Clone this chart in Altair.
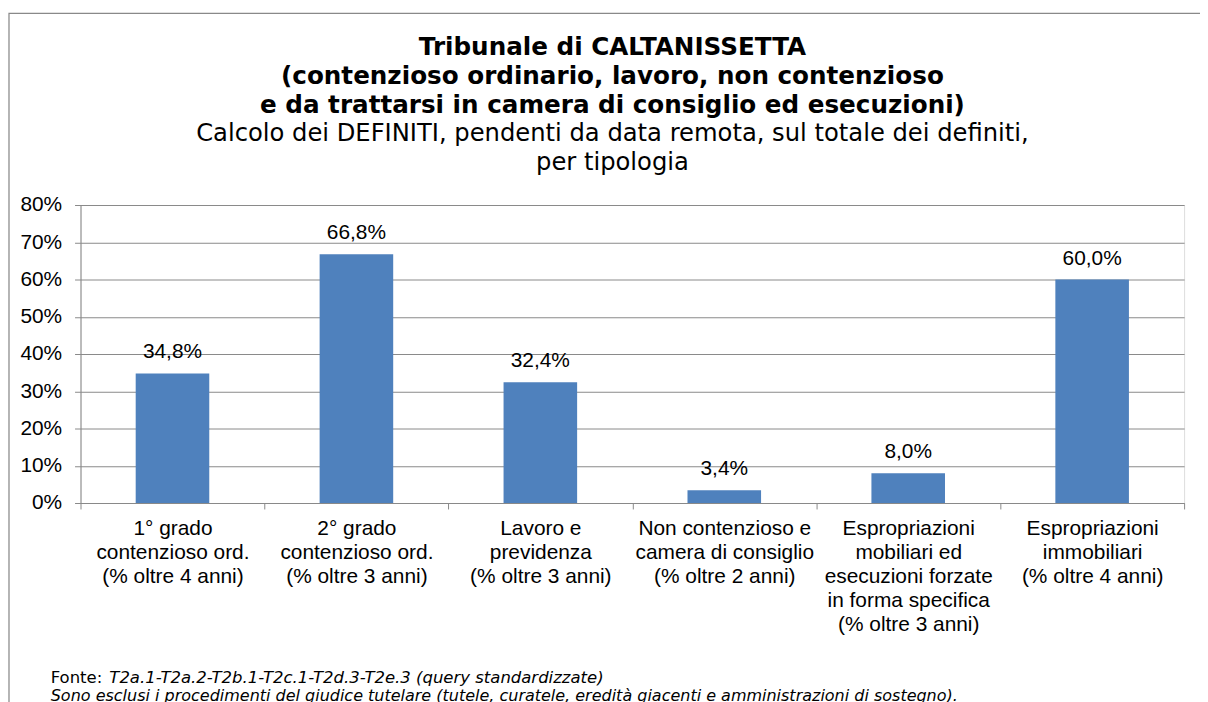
import altair as alt
import pandas as pd

categories = [
    "1° grado\ncontenzioso ord.\n(% oltre 4 anni)",
    "2° grado\ncontenzioso ord.\n(% oltre 3 anni)",
    "Lavoro e\nprevidenza\n(% oltre 3 anni)",
    "Non contenzioso e\ncamera di consiglio\n(% oltre 2 anni)",
    "Espropriazioni\nmobiliari ed\nesecuzioni forzate\nin forma specifica\n(% oltre 3 anni)",
    "Espropriazioni\nimmobiliari\n(% oltre 4 anni)",
]
values = [34.8, 66.8, 32.4, 3.4, 8.0, 60.0]
y_ticks = [0, 10, 20, 30, 40, 50, 60, 70, 80]

title_lines = [
    "Tribunale di CALTANISSETTA",
    "(contenzioso ordinario, lavoro, non contenzioso",
    "e da trattarsi in camera di consiglio ed esecuzioni)",
]
subtitle_lines = [
    "Calcolo dei DEFINITI, pendenti da data remota, sul totale dei definiti,",
    "per tipologia",
]
footer_label = "Fonte: "
footer_source = "T2a.1-T2a.2-T2b.1-T2c.1-T2d.3-T2e.3 (query standardizzate)"
footer_note = "Sono esclusi i procedimenti del giudice tutelare (tutele, curatele, eredità giacenti e amministrazioni di sostegno)."

df = pd.DataFrame({
    "cat": categories,
    "val": values,
    "label": [f"{v:.1f}".replace(".", ",") + "%" for v in values],
})

GRAY = "#898989"
BLUE = "#4F81BD"
W, H = 1111, 300

x_enc = alt.X(
    "cat:N",
    sort=categories,
    scale=alt.Scale(paddingInner=0, paddingOuter=0),
    axis=alt.Axis(
        title=None,
        labelAngle=0,
        labelExpr="split(datum.label, '\\n')",
        labelFont="Liberation Sans",
        labelFontSize=21,
        labelLineHeight=24,
        labelColor="black",
        labelPadding=9,
        labelLimit=0,
        labelOverlap=False,
        tickBand="extent",
        tickSize=6,
        tickColor=GRAY,
        domainColor=GRAY,
        grid=False,
    ),
)
y_enc = alt.Y(
    "val:Q",
    scale=alt.Scale(domain=[0, 80], nice=False),
    axis=alt.Axis(
        title=None,
        values=y_ticks,
        tickCount=9,
        labelExpr="datum.value + '%'",
        labelFont="Liberation Sans",
        labelFontSize=21,
        labelColor="black",
        labelPadding=13,
        labelOverlap=False,
        tickSize=6,
        tickColor=GRAY,
        domainColor=GRAY,
        gridColor=GRAY,
        gridWidth=1,
    ),
)

base = alt.Chart(df)
bars = base.mark_bar(color=BLUE, width={"band": 0.4}).encode(x=x_enc, y=y_enc)
texts = base.mark_text(
    font="Liberation Sans", fontSize=21, color="black", baseline="middle", dy=-21
).encode(x=x_enc, y=y_enc, text="label:N")

one = alt.Data(values=[{"a": 1}])
frame = alt.Chart(one).mark_rect(fill="transparent", stroke=GRAY, strokeWidth=1.25).encode(
    x=alt.value(-72), x2=alt.value(1160), y=alt.value(-193), y2=alt.value(530)
)
foot1a = alt.Chart(one).mark_text(
    font="DejaVu Sans", fontSize=16.6, align="left", baseline="middle", color="black"
).encode(x=alt.value(-30), y=alt.value(476), text=alt.value(footer_label))
foot1b = alt.Chart(one).mark_text(
    font="DejaVu Sans", fontSize=16.6, fontStyle="italic", align="left", baseline="middle", color="black"
).encode(x=alt.value(29), y=alt.value(476), text=alt.value(footer_source))
foot2 = alt.Chart(one).mark_text(
    font="DejaVu Sans", fontSize=16.1, fontStyle="italic", align="left", baseline="middle", color="black"
).encode(x=alt.value(-30), y=alt.value(494.5), text=alt.value(footer_note))

chart = alt.layer(frame, bars, texts, foot1a, foot1b, foot2).properties(
    width=W,
    height=H,
    autosize=alt.AutoSizeParams(type="none"),
    padding={"left": 73, "top": 196, "right": 16, "bottom": 198},
    title=alt.TitleParams(
        text=title_lines,
        subtitle=subtitle_lines,
        anchor="middle",
        frame="group",
        dx=-20,
        offset=-163,
        font="DejaVu Sans",
        fontSize=24.8,
        fontWeight="bold",
        lineHeight=29.3,
        color="black",
        subtitleFont="DejaVu Sans",
        subtitleFontSize=24.4,
        subtitleFontWeight="normal",
        subtitleLineHeight=29.3,
        subtitleColor="black",
        subtitlePadding=4,
    ),
).configure_view(strokeOpacity=0).configure(background="white")

chart.save("out.html", embed_options={"renderer": "svg", "actions": False})
